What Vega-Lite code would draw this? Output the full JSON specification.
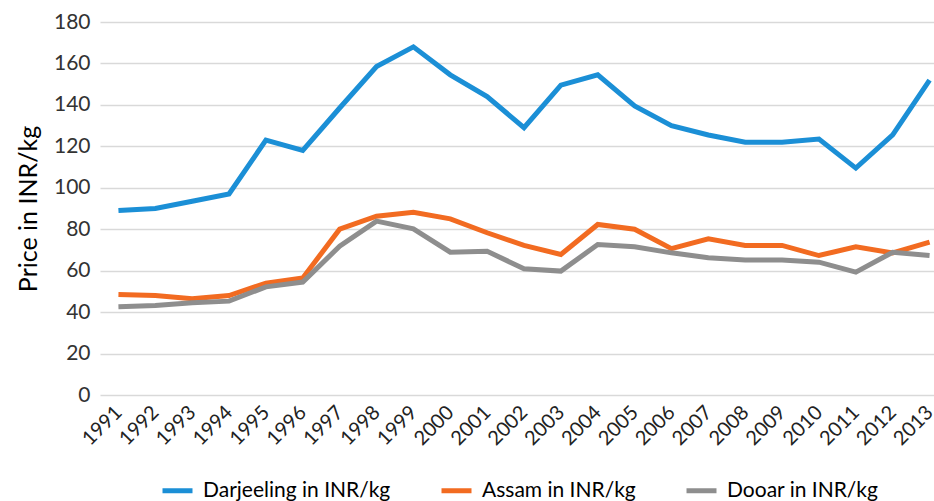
{
  "$schema": "https://vega.github.io/schema/vega-lite/v6.json",
  "autosize": "none",
  "width": 848,
  "height": 373,
  "padding": {"left": 100, "top": 22, "right": 0, "bottom": 106},
  "background": "white",
  "config": {
    "font": "Lato",
    "view": {"stroke": null}
  },
  "data": {
    "values": [
      {"year": "1991", "series": "Darjeeling in INR/kg", "price": 89},
      {"year": "1992", "series": "Darjeeling in INR/kg", "price": 90},
      {"year": "1993", "series": "Darjeeling in INR/kg", "price": 93.5},
      {"year": "1994", "series": "Darjeeling in INR/kg", "price": 97},
      {"year": "1995", "series": "Darjeeling in INR/kg", "price": 123},
      {"year": "1996", "series": "Darjeeling in INR/kg", "price": 118},
      {"year": "1997", "series": "Darjeeling in INR/kg", "price": 138.5},
      {"year": "1998", "series": "Darjeeling in INR/kg", "price": 158.5},
      {"year": "1999", "series": "Darjeeling in INR/kg", "price": 168},
      {"year": "2000", "series": "Darjeeling in INR/kg", "price": 154.5},
      {"year": "2001", "series": "Darjeeling in INR/kg", "price": 144},
      {"year": "2002", "series": "Darjeeling in INR/kg", "price": 129},
      {"year": "2003", "series": "Darjeeling in INR/kg", "price": 149.5},
      {"year": "2004", "series": "Darjeeling in INR/kg", "price": 154.5},
      {"year": "2005", "series": "Darjeeling in INR/kg", "price": 139.5},
      {"year": "2006", "series": "Darjeeling in INR/kg", "price": 130},
      {"year": "2007", "series": "Darjeeling in INR/kg", "price": 125.5},
      {"year": "2008", "series": "Darjeeling in INR/kg", "price": 122},
      {"year": "2009", "series": "Darjeeling in INR/kg", "price": 122},
      {"year": "2010", "series": "Darjeeling in INR/kg", "price": 123.5},
      {"year": "2011", "series": "Darjeeling in INR/kg", "price": 109.5},
      {"year": "2012", "series": "Darjeeling in INR/kg", "price": 125.5},
      {"year": "2013", "series": "Darjeeling in INR/kg", "price": 152},
      {"year": "1991", "series": "Assam in INR/kg", "price": 48.5},
      {"year": "1992", "series": "Assam in INR/kg", "price": 48},
      {"year": "1993", "series": "Assam in INR/kg", "price": 46.5},
      {"year": "1994", "series": "Assam in INR/kg", "price": 48},
      {"year": "1995", "series": "Assam in INR/kg", "price": 54},
      {"year": "1996", "series": "Assam in INR/kg", "price": 56.5},
      {"year": "1997", "series": "Assam in INR/kg", "price": 80},
      {"year": "1998", "series": "Assam in INR/kg", "price": 86.3},
      {"year": "1999", "series": "Assam in INR/kg", "price": 88.2},
      {"year": "2000", "series": "Assam in INR/kg", "price": 85},
      {"year": "2001", "series": "Assam in INR/kg", "price": 78.3},
      {"year": "2002", "series": "Assam in INR/kg", "price": 72.2},
      {"year": "2003", "series": "Assam in INR/kg", "price": 67.8},
      {"year": "2004", "series": "Assam in INR/kg", "price": 82.3},
      {"year": "2005", "series": "Assam in INR/kg", "price": 80},
      {"year": "2006", "series": "Assam in INR/kg", "price": 70.6},
      {"year": "2007", "series": "Assam in INR/kg", "price": 75.4},
      {"year": "2008", "series": "Assam in INR/kg", "price": 72.2},
      {"year": "2009", "series": "Assam in INR/kg", "price": 72.2},
      {"year": "2010", "series": "Assam in INR/kg", "price": 67.3},
      {"year": "2011", "series": "Assam in INR/kg", "price": 71.5},
      {"year": "2012", "series": "Assam in INR/kg", "price": 68.6},
      {"year": "2013", "series": "Assam in INR/kg", "price": 73.8},
      {"year": "1991", "series": "Dooar in INR/kg", "price": 42.6},
      {"year": "1992", "series": "Dooar in INR/kg", "price": 43.2},
      {"year": "1993", "series": "Dooar in INR/kg", "price": 44.5},
      {"year": "1994", "series": "Dooar in INR/kg", "price": 45.3},
      {"year": "1995", "series": "Dooar in INR/kg", "price": 52.2},
      {"year": "1996", "series": "Dooar in INR/kg", "price": 54.5},
      {"year": "1997", "series": "Dooar in INR/kg", "price": 71.8},
      {"year": "1998", "series": "Dooar in INR/kg", "price": 83.9},
      {"year": "1999", "series": "Dooar in INR/kg", "price": 80.2},
      {"year": "2000", "series": "Dooar in INR/kg", "price": 68.9},
      {"year": "2001", "series": "Dooar in INR/kg", "price": 69.4},
      {"year": "2002", "series": "Dooar in INR/kg", "price": 60.9},
      {"year": "2003", "series": "Dooar in INR/kg", "price": 59.8},
      {"year": "2004", "series": "Dooar in INR/kg", "price": 72.6},
      {"year": "2005", "series": "Dooar in INR/kg", "price": 71.5},
      {"year": "2006", "series": "Dooar in INR/kg", "price": 68.6},
      {"year": "2007", "series": "Dooar in INR/kg", "price": 66.2},
      {"year": "2008", "series": "Dooar in INR/kg", "price": 65.1},
      {"year": "2009", "series": "Dooar in INR/kg", "price": 65.1},
      {"year": "2010", "series": "Dooar in INR/kg", "price": 64.1},
      {"year": "2011", "series": "Dooar in INR/kg", "price": 59.3},
      {"year": "2012", "series": "Dooar in INR/kg", "price": 68.9},
      {"year": "2013", "series": "Dooar in INR/kg", "price": 67.3}
    ]
  },
  "mark": {"type": "line", "strokeWidth": 5, "strokeJoin": "miter"},
  "encoding": {
    "x": {
      "field": "year",
      "type": "ordinal",
      "scale": {"type": "point", "padding": 0.5},
      "axis": {
        "title": null,
        "domain": false,
        "ticks": false,
        "grid": false,
        "labelAngle": -45,
        "labelAlign": "right",
        "labelBaseline": "middle",
        "labelFontSize": 20,
        "labelColor": "#222222",
        "labelPadding": 14
      }
    },
    "y": {
      "field": "price",
      "type": "quantitative",
      "scale": {"domain": [0, 180]},
      "axis": {
        "title": "Price in INR/kg",
        "titleFontSize": 25,
        "titleFontWeight": "normal",
        "titleColor": "#000000",
        "titlePadding": 12,
        "values": [0, 20, 40, 60, 80, 100, 120, 140, 160, 180],
        "domain": false,
        "ticks": false,
        "grid": true,
        "gridColor": "#d9d9d9",
        "gridWidth": 1.5,
        "labelFontSize": 21,
        "labelColor": "#333333",
        "labelPadding": 10
      }
    },
    "color": {
      "field": "series",
      "type": "nominal",
      "sort": ["Darjeeling in INR/kg", "Assam in INR/kg", "Dooar in INR/kg"],
      "scale": {
        "domain": ["Darjeeling in INR/kg", "Assam in INR/kg", "Dooar in INR/kg"],
        "range": ["#1b8fd6", "#f26b21", "#8e8e8e"]
      },
      "legend": {
        "title": null,
        "orient": "none",
        "legendX": 60,
        "legendY": 451,
        "padding": 0,
        "direction": "horizontal",
        "symbolType": "stroke",
        "symbolStrokeWidth": 5,
        "symbolSize": 900,
        "labelFontSize": 21,
        "labelLimit": 0,
        "labelColor": "#000000",
        "columnPadding": 40,
        "labelOffset": 8
      }
    }
  }
}
